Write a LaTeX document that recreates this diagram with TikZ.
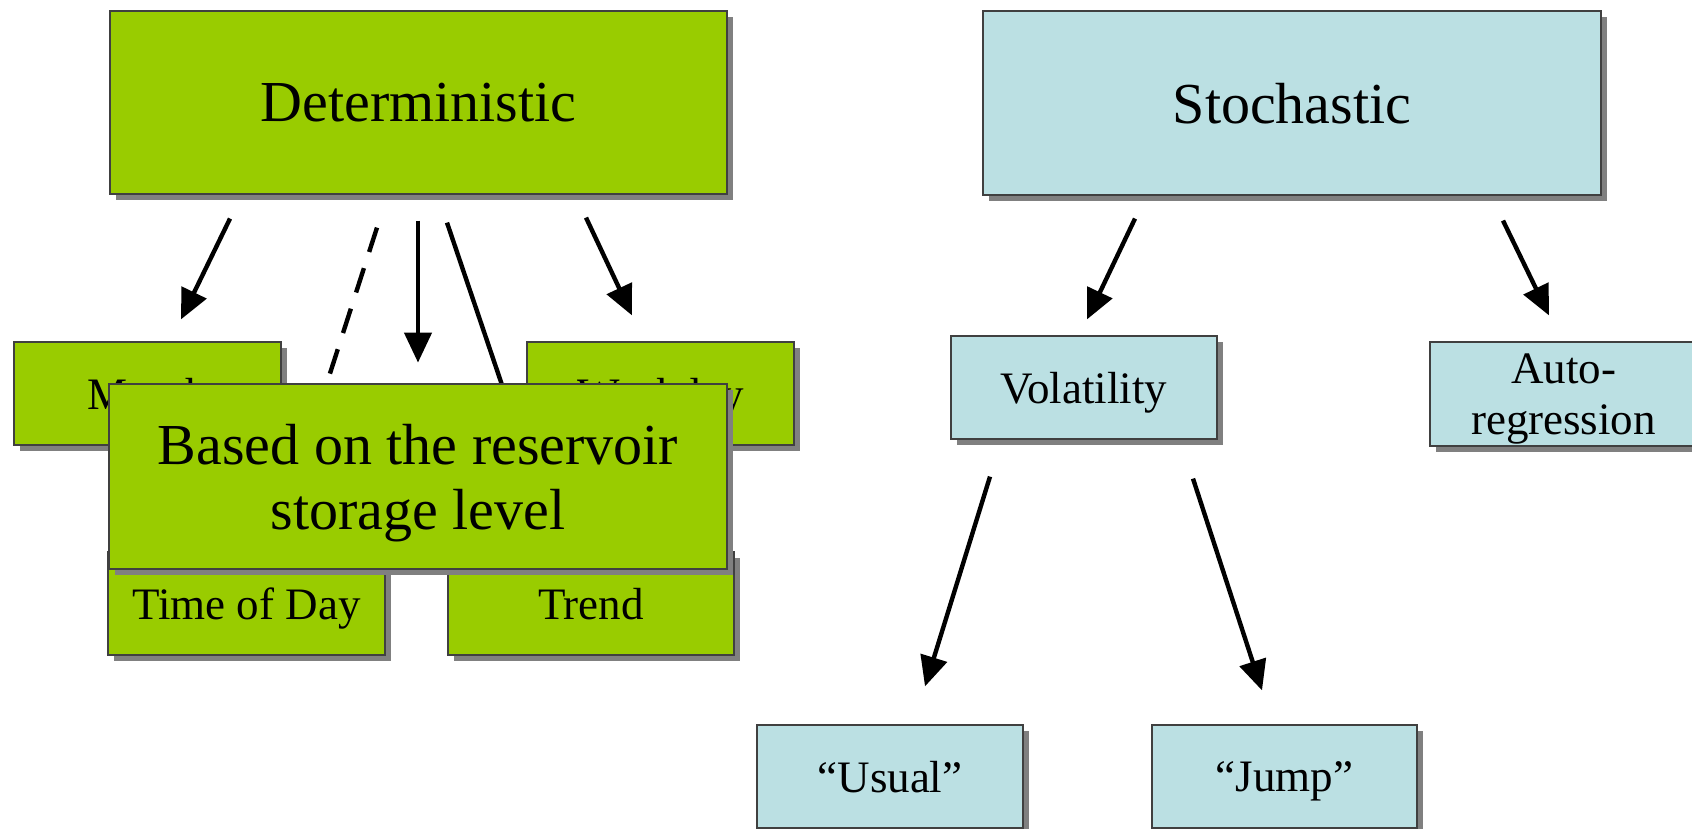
\documentclass[tikz,border=0pt]{standalone}
\usepackage{fontspec}
\setmainfont{Liberation Serif}
\usetikzlibrary{arrows.meta,shadows,calc}
\definecolor{detgreen}{HTML}{99CC00}
\definecolor{stoblue}{HTML}{BBE0E3}

\begin{document}
\begin{tikzpicture}[x=0.5pt, y=-0.5pt,
		box/.style={draw=black!75, line width=0.6pt, inner sep=0pt, align=center, text depth=0pt,
			drop shadow={shadow xshift=3pt, shadow yshift=-3pt, fill=black!50, opacity=1}},
		detbox/.style={box, fill=detgreen},
		stobox/.style={box, fill=stoblue},
		bigtext/.style={font=\fontsize{29}{32.5}\selectfont},
		smalltext/.style={font=\fontsize{22.5}{25.5}\selectfont},
		arr/.style={line width=2.2pt, -{Triangle[length=15pt,width=13.5pt]}}]
		\clip (0,0) rectangle (1692,829);
		\fill[white] (0,0) rectangle (1692,829);
		% top level
		\node[detbox, bigtext, minimum width=308.5pt, minimum height=91.5pt] (det) at (418.5,102.5) {Deterministic};
		\node[stobox, bigtext, minimum width=309pt, minimum height=92pt] (sto) at (1292,103) {Stochastic};
		% deterministic parts
		\node[detbox, smalltext, minimum width=133.5pt, minimum height=51.5pt] (month) at (147.5,393.5) {Month};
		\node[detbox, smalltext, minimum width=133.5pt, minimum height=51.5pt] (weekday) at (660.5,393.5) {Weekday};
		\node[detbox, smalltext, minimum width=138.5pt, minimum height=51.5pt] (timeday) at (246.5,603.5) {Time of Day};
		\node[detbox, smalltext, minimum width=143pt, minimum height=51.5pt] (trend) at (591,603.5) {Trend};
		\draw[arr] ($(det.south)+(-188.5,24)$) -- ($(month.north)+(33.5,-22)$);
		\draw[line width=2.2pt, dash pattern=on 12.8pt off 8.5pt] ($(det.south)+(-41.5,33)$) -- ($(timeday.north)+(30,-12)$);
		\draw[arr] ($(det.south)+(-0.5,26)$) -- ($(det.south)+(-0.5,168)$);
		\draw[line width=2.2pt] ($(det.south)+(28.5,28)$) -- ($(trend.north)+(-36,-10)$);
		\draw[arr] ($(det.south)+(167.5,23)$) -- ($(weekday.north)+(-28.5,-26)$);
		\node[detbox, bigtext, minimum width=309pt, minimum height=92.5pt] (based) at (418,476.5) {Based on the reservoir\\storage level};
		% stochastic parts
		\node[stobox, smalltext, minimum width=133pt, minimum height=51.5pt] (vol) at (1084,387.5) {Volatility};
		\node[stobox, smalltext, minimum width=133.5pt, minimum height=52pt] (auto) at (1563.5,394) {Auto-\\regression};
		\node[stobox, smalltext, minimum width=133pt, minimum height=51.5pt] (usual) at (890,776.5) {“Usual”};
		\node[stobox, smalltext, minimum width=132.5pt, minimum height=51.5pt] (jump) at (1284.5,776.5) {“Jump”};
		\draw[arr] ($(sto.south)+(-157,23)$) -- ($(vol.north)+(3,-16)$);
		\draw[arr] ($(sto.south)+(211,25)$) -- ($(auto.north)+(-14.5,-26)$);
		\draw[arr] ($(vol.south)+(-94,37)$) -- ($(usual.north)+(35,-38)$);
		\draw[arr] ($(vol.south)+(109,39)$) -- ($(jump.north)+(-22.5,-34)$);
\end{tikzpicture}
\end{document}
